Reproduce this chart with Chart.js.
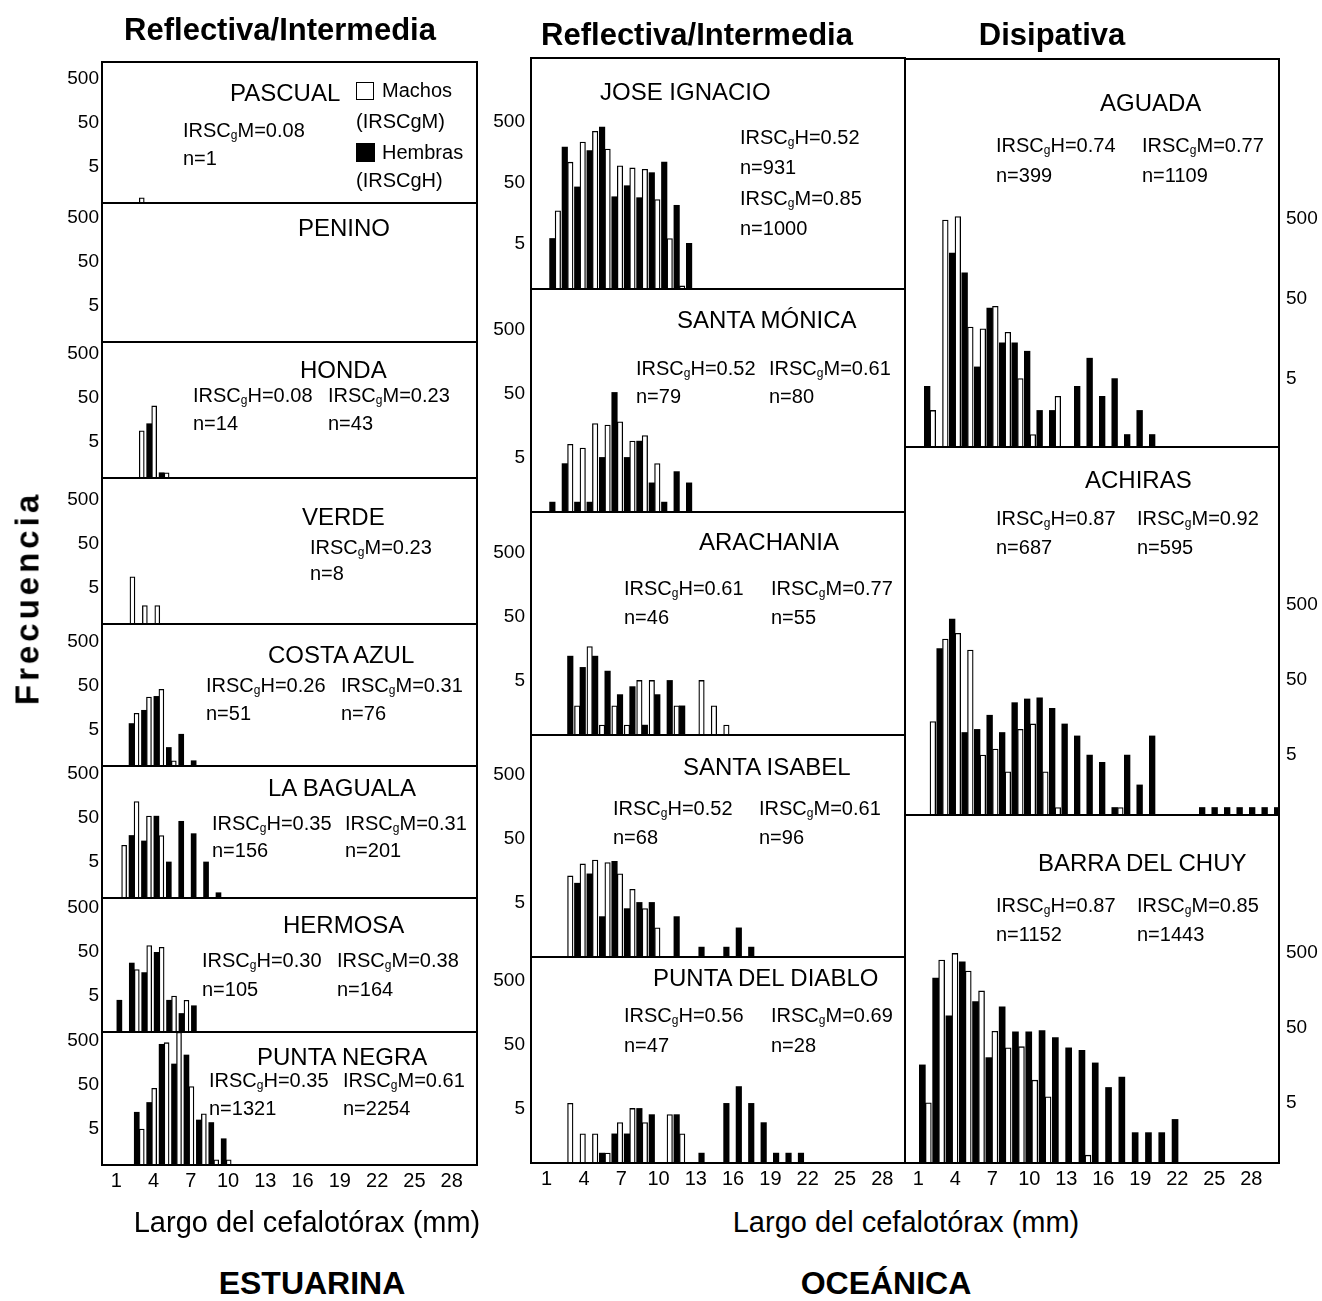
<!DOCTYPE html>
<html lang="es">
<head>
<meta charset="utf-8">
<title>Frecuencia por talla</title>
<script src="https://cdn.jsdelivr.net/npm/chart.js@4.4.1/dist/chart.umd.min.js"></script>
<style>
  html, body { margin: 0; padding: 0; background: #fff; }
  #lienzo { position: relative; width: 1322px; height: 1301px; overflow: hidden;
            font-family: "Liberation Sans", Arial, Helvetica, sans-serif; color: #000; }
  .panel { position: absolute; }
  .panel canvas { display: block; }
  .t { position: absolute; white-space: nowrap; line-height: 1; z-index: 5; }
  .t sub { font-size: 0.6em; position: relative; top: 0.12em; vertical-align: baseline; line-height: 0; }
  .b { font-weight: bold; }
  .caja { position: absolute; box-sizing: border-box; z-index: 5; }
</style>
</head>
<body>
<div id="lienzo"></div>
<script>
// Clases de talla (mm) del cefalotórax
const tallas = [1, 2, 3, 4, 5, 6, 7, 8, 9, 10, 11, 12, 13, 14, 15, 16, 17, 18, 19, 20,
                21, 22, 23, 24, 25, 26, 27, 28, 29, 30];
const ticksX = [1, 4, 7, 10, 13, 16, 19, 22, 25, 28];
const ticksY = [5, 50, 500];

// Frecuencias por talla: [talla, individuos]; H = hembras, M = machos
const pascualH = [];
const pascualM = [[3, 1]];
const peninoH = [];
const peninoM = [];
const hondaH = [[4, 13], [5, 1]];
const hondaM = [[3, 9], [4, 33], [5, 1]];
const verdeH = [];
const verdeM = [[2, 9], [3, 2], [4, 2]];
const costaAzulH = [[3, 7], [4, 14], [5, 29], [6, 2], [7, 4], [8, 1]];
const costaAzulM = [[3, 12], [4, 28], [5, 42], [6, 1]];
const laBagualaH = [[3, 20], [4, 15], [5, 55], [6, 5], [7, 42], [8, 22], [9, 5], [10, 1]];
const laBagualaM = [[2, 12], [3, 118], [4, 55], [5, 20]];
const hermosaH = [[2, 4], [3, 28], [4, 17], [5, 49], [6, 4], [7, 2], [8, 3]];
const hermosaM = [[3, 20], [4, 70], [5, 64], [6, 5], [7, 4]];
const puntaNegraH = [[3, 12], [4, 20], [5, 420], [6, 150], [7, 240], [8, 8], [9, 7], [10, 3]];
const puntaNegraM = [[3, 5], [4, 42], [5, 457], [6, 790], [7, 46], [8, 11], [9, 1], [10, 1]];

const joseIgnacioH = [[2, 6], [3, 189], [4, 42], [5, 165], [6, 404], [7, 29], [8, 44], [9, 28],
                      [10, 72], [11, 107], [12, 21], [13, 5]];
const joseIgnacioM = [[2, 17], [3, 107], [4, 229], [5, 343], [6, 175], [7, 93], [8, 86], [9, 82],
                      [10, 26], [11, 6], [12, 1]];
const santaMonicaH = [[2, 1], [3, 4], [4, 1], [5, 1], [6, 5], [7, 52], [8, 5], [9, 9], [10, 2],
                      [11, 1], [12, 3], [13, 2]];
const santaMonicaM = [[3, 8], [4, 7], [5, 17], [6, 16], [7, 18], [8, 9], [9, 11], [10, 4]];
const arachaniaH = [[3, 12], [4, 8], [5, 12], [6, 7], [7, 3], [8, 4], [9, 1], [10, 3], [11, 5], [12, 2]];
const arachaniaM = [[4, 2], [5, 17], [6, 1], [7, 2], [8, 1], [9, 5], [10, 5], [12, 2], [14, 5],
                    [15, 2], [16, 1]];
const santaIsabelH = [[4, 10], [5, 14], [6, 3], [7, 22], [8, 4], [9, 5], [10, 5], [12, 3], [14, 1],
                      [16, 1], [17, 2], [18, 1]];
const santaIsabelM = [[3, 13], [4, 20], [5, 23], [6, 21], [7, 14], [8, 8], [9, 4], [10, 2]];
const puntaDiabloH = [[6, 1], [7, 2], [8, 2], [9, 5], [10, 4], [12, 4], [14, 1], [16, 6], [17, 11],
                      [18, 6], [19, 3], [20, 1], [21, 1], [22, 1]];
const puntaDiabloM = [[3, 6], [4, 2], [5, 2], [6, 1], [7, 3], [8, 5], [9, 3], [11, 4], [12, 2]];

const aguadaH = [[2, 4], [4, 185], [5, 105], [6, 7], [7, 38], [8, 14], [9, 14], [10, 11], [11, 2],
                 [12, 2], [14, 4], [15, 9], [16, 3], [17, 5], [18, 1], [19, 2], [20, 1]];
const aguadaM = [[2, 2], [3, 480], [4, 530], [5, 22], [6, 21], [7, 40], [8, 19], [9, 5], [10, 1], [12, 3]];
const achirasH = [[3, 132], [4, 326], [5, 10], [6, 11], [7, 17], [8, 10], [9, 25], [10, 28], [11, 29],
                  [12, 21], [13, 13], [14, 9], [15, 5], [16, 4], [17, 1], [18, 5], [19, 2], [20, 9],
                  [24, 1], [25, 1], [26, 1], [27, 1], [28, 1], [29, 1], [30, 1]];
const achirasM = [[2, 14], [3, 176], [4, 210], [5, 126], [6, 5], [7, 6], [8, 3], [9, 11], [10, 13],
                  [11, 3], [12, 1], [17, 1]];
const barraH = [[2, 16], [3, 230], [4, 72], [5, 380], [6, 112], [7, 20], [8, 95], [9, 44], [10, 44],
                [11, 46], [12, 37], [13, 27], [14, 25], [15, 17], [16, 8], [17, 11], [18, 2], [19, 2],
                [20, 2], [21, 3]];
const barraM = [[2, 5], [3, 400], [4, 490], [5, 285], [6, 155], [7, 45], [8, 27], [9, 28], [10, 10],
                [11, 6], [14, 1]];

// Playas y estadísticos
const sitios = ['PASCUAL', 'PENINO', 'HONDA', 'VERDE', 'COSTA AZUL', 'LA BAGUALA', 'HERMOSA',
                'PUNTA NEGRA', 'JOSE IGNACIO', 'SANTA MÓNICA', 'ARACHANIA', 'SANTA ISABEL',
                'PUNTA DEL DIABLO', 'AGUADA', 'ACHIRAS', 'BARRA DEL CHUY'];
const irscH = [null, null, '0.08', null, '0.26', '0.35', '0.30', '0.35', '0.52', '0.52', '0.61',
               '0.52', '0.56', '0.74', '0.87', '0.87'];
const nH = [null, null, 14, null, 51, 156, 105, 1321, 931, 79, 46, 68, 47, 399, 687, 1152];
const irscM = ['0.08', null, '0.23', '0.23', '0.31', '0.31', '0.38', '0.61', '0.85', '0.61', '0.77',
               '0.61', '0.69', '0.77', '0.92', '0.85'];
const nM = [1, null, 43, 8, 76, 201, 164, 2254, 1000, 80, 55, 96, 28, 1109, 595, 1443];

const hembras = [pascualH, peninoH, hondaH, verdeH, costaAzulH, laBagualaH, hermosaH, puntaNegraH,
                 joseIgnacioH, santaMonicaH, arachaniaH, santaIsabelH, puntaDiabloH,
                 aguadaH, achirasH, barraH];
const machos = [pascualM, peninoM, hondaM, verdeM, costaAzulM, laBagualaM, hermosaM, puntaNegraM,
                joseIgnacioM, santaMonicaM, arachaniaM, santaIsabelM, puntaDiabloM,
                aguadaM, achirasM, barraM];

// ---- Disposición ----
const FUENTE = '"Liberation Sans", Arial, Helvetica, sans-serif';
Chart.defaults.font.family = FUENTE;
Chart.defaults.color = '#000';

// columnas: bordes del marco, px por mm, px por década, log10 del mínimo
const columnas = [
  { izq: 102, der: 477, pxMm: 12.42, d: 44, minLog: -0.12, lado: 'left', grosor: 5, pad: 3 },
  { izq: 531, der: 905, pxMm: 12.43, d: 64, minLog: -0.15, lado: 'left', grosor: 5.5, pad: 6 },
  { izq: 905, der: 1279, pxMm: 12.5, d: 75, minLog: -0.1, lado: 'right', grosor: 5.7, pad: 7 }
];

const paneles = [
  { sitio: 0, col: 0, arriba: 62, abajo: 203, xMin: 0 },
  { sitio: 1, col: 0, arriba: 203, abajo: 342, xMin: 0 },
  { sitio: 2, col: 0, arriba: 342, abajo: 478, xMin: 0 },
  { sitio: 3, col: 0, arriba: 478, abajo: 624, xMin: -0.25 },
  { sitio: 4, col: 0, arriba: 624, abajo: 766, xMin: 0.42 },
  { sitio: 5, col: 0, arriba: 766, abajo: 898, xMin: 0.42 },
  { sitio: 6, col: 0, arriba: 898, abajo: 1032, xMin: 0.4 },
  { sitio: 7, col: 0, arriba: 1032, abajo: 1165, xMin: 0, eje: [-0.15, 30.04] },
  { sitio: 8, col: 1, arriba: 58, abajo: 289, xMin: 0.06, d: 61, minLog: -0.05 },
  { sitio: 9, col: 1, arriba: 289, abajo: 512, xMin: 0.06 },
  { sitio: 10, col: 1, arriba: 512, abajo: 735, xMin: 0.06, machosPrimero: true },
  { sitio: 11, col: 1, arriba: 735, abajo: 957, xMin: 0.06 },
  { sitio: 12, col: 1, arriba: 957, abajo: 1163, xMin: 0.06, eje: [-0.26, 29.83] },
  { sitio: 13, col: 2, arriba: 59, abajo: 447, xMin: 0, d: 80, minLog: -0.156 },
  { sitio: 14, col: 2, arriba: 447, abajo: 815, xMin: 0 },
  { sitio: 15, col: 2, arriba: 815, abajo: 1163, xMin: 0.47, pxMm: 13.3, minLog: -0.104, grosor: 6,
    eje: [-0.07, 30.24] }
];

// posiciones de textos [x izquierda, centro vertical]
const posTitulo = [[230, 93], [298, 228], [300, 370], [302, 517], [268, 655], [268, 788], [283, 925],
                   [257, 1057], [600, 92], [677, 320], [699, 542], [683, 767], [653, 978],
                   [1100, 103], [1085, 480], [1038, 863]];
const posIrscH = [null, null, [193, 395], null, [206, 685], [212, 823], [202, 960], [209, 1080],
                  [740, 137], [636, 368], [624, 588], [613, 808], [624, 1015],
                  [996, 145], [996, 518], [996, 905]];
const posNH = [null, null, [193, 423], null, [206, 713], [212, 850], [202, 989], [209, 1108],
               [740, 167], [636, 396], [624, 617], [613, 837], [624, 1045],
               [996, 175], [996, 547], [996, 934]];
const posIrscM = [[183, 130], null, [328, 395], [310, 547], [341, 685], [345, 823], [337, 960],
                  [343, 1080], [740, 198], [769, 368], [771, 588], [759, 808], [771, 1015],
                  [1142, 145], [1137, 518], [1137, 905]];
const posNM = [[183, 158], null, [328, 423], [310, 573], [341, 713], [345, 850], [337, 989],
               [343, 1108], [740, 228], [769, 396], [771, 617], [759, 837], [771, 1045],
               [1142, 175], [1137, 547], [1137, 934]];

const lienzo = document.getElementById('lienzo');

function serie(pares) {
  const m = new Map(pares);
  return tallas.map(t => ({ x: t, y: m.has(t) ? m.get(t) : null }));
}

function texto(html, x, cy, size, opts = {}) {
  const el = document.createElement('div');
  el.className = 't' + (opts.negrita ? ' b' : '');
  el.innerHTML = html;
  el.style.fontSize = size + 'px';
  el.style.top = (cy - size * 0.49) + 'px';
  el.style.left = x + 'px';
  if (opts.centro) el.style.transform = 'translateX(-50%)';
  if (opts.espaciado) el.style.letterSpacing = opts.espaciado + 'px';
  lienzo.appendChild(el);
  return el;
}

// marco de cada panel
const marco = {
  id: 'marco',
  afterDatasetsDraw(chart) {
    const { ctx, chartArea: a } = chart;
    ctx.save();
    ctx.lineWidth = 2;
    ctx.strokeStyle = '#000';
    ctx.strokeRect(a.left, a.top, a.right - a.left, a.bottom - a.top);
    ctx.restore();
  }
};

paneles.forEach(p => {
  const c = columnas[p.col];
  const ancho = c.der - c.izq;
  const alto = p.abajo - p.arriba;
  const d = p.d ?? c.d;
  const minLog = p.minLog ?? c.minLog;
  const pxMm = p.pxMm ?? c.pxMm;
  const grosor = p.grosor ?? c.grosor;
  const L = 60, R = 60, T = 20, B = 40;
  const derecha = c.lado === 'right';

  const caja = document.createElement('div');
  caja.className = 'panel';
  caja.style.left = (c.izq - L) + 'px';
  caja.style.top = (p.arriba - T) + 'px';
  caja.style.width = (ancho + L + R) + 'px';
  caja.style.height = (alto + T + B) + 'px';
  const cv = document.createElement('canvas');
  cv.width = ancho + L + R;
  cv.height = alto + T + B;
  caja.appendChild(cv);
  lienzo.appendChild(caja);

  const yMin = Math.pow(10, minLog);
  const yMax = Math.pow(10, minLog + alto / d);
  const xMax = p.xMin + ancho / pxMm;

  const dsH = {
    label: 'Hembras', data: serie(hembras[p.sitio]), xAxisID: 'x', yAxisID: 'y',
    backgroundColor: '#000', borderColor: '#000', borderWidth: 0,
    barThickness: grosor, clip: 0
  };
  const dsM = {
    label: 'Machos', data: serie(machos[p.sitio]), xAxisID: 'x', yAxisID: 'y',
    backgroundColor: '#fff', borderColor: '#000', borderWidth: 1.3,
    barThickness: grosor, clip: 0
  };

  const scales = {
    x: { type: 'linear', min: p.xMin, max: xMax, offset: false, display: false },
    y: {
      type: 'logarithmic', position: c.lado, min: yMin, max: yMax,
      afterFit: s => { s.width = derecha ? R : L; },
      afterBuildTicks: s => { s.ticks = ticksY.map(v => ({ value: v })); },
      grid: { display: false, drawTicks: false },
      border: { display: false },
      ticks: { color: '#000', font: { size: 19 }, padding: c.pad, autoSkip: false,
               callback: v => String(v) }
    }
  };
  if (p.eje) {
    scales.xEje = {
      type: 'linear', position: 'bottom', min: p.eje[0], max: p.eje[1], offset: false,
      afterFit: s => { s.height = B; },
      afterBuildTicks: s => { s.ticks = ticksX.map(v => ({ value: v })); },
      grid: { display: false, drawTicks: false },
      border: { display: false },
      ticks: { color: '#000', font: { size: 20 }, padding: 4, maxRotation: 0, minRotation: 0,
               autoSkip: false, callback: v => String(v) }
    };
  }

  new Chart(cv, {
    type: 'bar',
    data: { datasets: p.machosPrimero ? [dsM, dsH] : [dsH, dsM] },
    options: {
      responsive: false, animation: false, devicePixelRatio: 1,
      layout: { padding: { left: derecha ? L : 0, right: derecha ? 0 : R, top: T, bottom: p.eje ? 0 : B } },
      plugins: { legend: { display: false }, tooltip: { enabled: false } },
      scales
    },
    plugins: [marco]
  });

  // rótulos del panel
  const i = p.sitio;
  texto(sitios[i], posTitulo[i][0], posTitulo[i][1], 24);
  if (irscH[i] !== null) {
    texto('IRSC<sub>g</sub>H=' + irscH[i], posIrscH[i][0], posIrscH[i][1], 20);
    texto('n=' + nH[i], posNH[i][0], posNH[i][1], 20);
  }
  if (irscM[i] !== null) {
    texto('IRSC<sub>g</sub>M=' + irscM[i], posIrscM[i][0], posIrscM[i][1], 20);
    texto('n=' + nM[i], posNM[i][0], posNM[i][1], 20);
  }
});

// leyenda
function cuadro(x, y, w, h, relleno) {
  const el = document.createElement('div');
  el.className = 'caja';
  el.style.left = x + 'px'; el.style.top = y + 'px';
  el.style.width = w + 'px'; el.style.height = h + 'px';
  el.style.background = relleno;
  el.style.border = '1.5px solid #000';
  lienzo.appendChild(el);
}
cuadro(356, 82, 18, 18, '#fff');
texto('Machos', 382, 90, 20);
texto('(IRSCgM)', 356, 121, 20);
cuadro(356, 143, 19, 19, '#000');
texto('Hembras', 382, 152, 20);
texto('(IRSCgH)', 356, 180, 20);

// encabezados y títulos de ejes
texto('Reflectiva/Intermedia', 280, 29, 31, { negrita: true, centro: true });
texto('Reflectiva/Intermedia', 697, 34, 31, { negrita: true, centro: true });
texto('Disipativa', 1052, 34, 31, { negrita: true, centro: true });
texto('Largo del cefalotórax (mm)', 307, 1222, 29, { centro: true });
texto('Largo del cefalotórax (mm)', 906, 1222, 29, { centro: true });
texto('ESTUARINA', 312, 1283, 32, { negrita: true, centro: true });
texto('OCEÁNICA', 886, 1283, 32, { negrita: true, centro: true });

const frec = document.createElement('div');
frec.className = 't b';
frec.textContent = 'Frecuencia';
frec.style.fontSize = '33px';
frec.style.letterSpacing = '4px';
frec.style.left = '27px';
frec.style.top = '598px';
frec.style.transform = 'translate(-50%, -50%) rotate(-90deg)';
lienzo.appendChild(frec);
</script>
</body>
</html>
